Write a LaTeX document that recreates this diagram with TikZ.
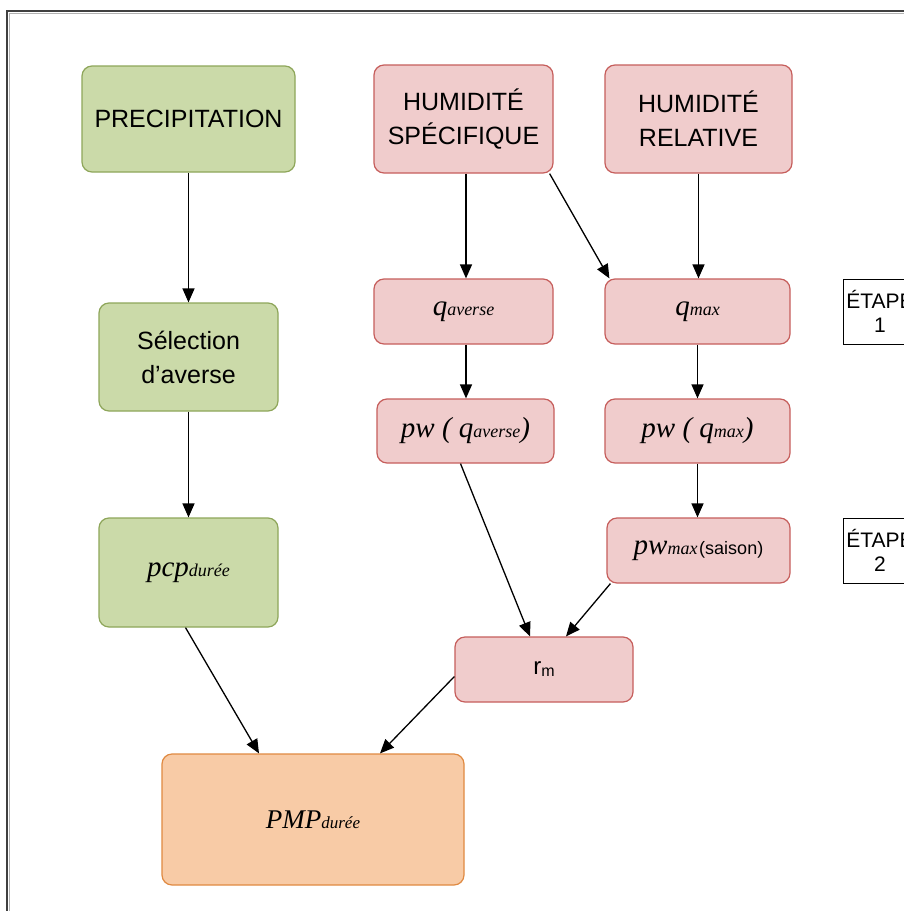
\documentclass[tikz,border=0pt]{standalone}
\usepackage{fontspec}
\setmainfont{Liberation Serif}
\setsansfont{Liberation Sans}
\usetikzlibrary{arrows.meta}
\definecolor{gfill}{HTML}{CBDAA9}
\definecolor{gdraw}{HTML}{8EA65A}
\definecolor{pfill}{HTML}{F0CCCC}
\definecolor{pdraw}{HTML}{C65E5C}
\definecolor{ofill}{HTML}{F8CBA6}
\definecolor{odraw}{HTML}{E08A42}
\newcommand\bigi[1]{{\fontsize{29}{30}\selectfont\itshape #1}}
\newcommand\subi[1]{{\fontsize{18}{20}\selectfont\itshape #1}}
\tikzset{
  boxbase/.style={rectangle, rounded corners=10pt, line width=1.2pt, align=center, inner sep=0pt},
  gbox/.style={boxbase, fill=gfill, draw=gdraw},
  pbox/.style={boxbase, fill=pfill, draw=pdraw},
  obox/.style={boxbase, fill=ofill, draw=odraw},
  bigsans/.style={font=\fontsize{25}{34}\selectfont\sffamily},
  etbox/.style={rectangle, draw=black, line width=0.8pt, fill=white, align=center,
    minimum width=70pt, minimum height=65pt, font=\fontsize{21}{24}\selectfont\sffamily},
  arr/.style={-{Triangle[length=14pt,width=12pt]}, line width=1.3pt, black},
}
\begin{document}
\begin{tikzpicture}[x=1pt,y=-1pt]
\useasboundingbox (0,0) rectangle (904,911);
\fill[white] (0,0) rectangle (904,911);
% frame
\draw[line width=2pt, black!75] (7,911) -- (7,11) -- (910,11);
\draw[line width=1.2pt, black!30] (9.5,911) -- (9.5,13.5) -- (910,13.5);

% nodes
\node[gbox, bigsans, minimum width=213pt, minimum height=106pt] (prec) at (188.5,119) {PRECIPITATION};
\node[pbox, bigsans, minimum width=179pt, minimum height=108pt] (hs) at (463.5,119) {HUMIDITÉ\\SPÉCIFIQUE};
\node[pbox, bigsans, minimum width=187pt, minimum height=108pt] (hr) at (698.5,119) {HUMIDITÉ\\RELATIVE};

\node[pbox, minimum width=179pt, minimum height=65pt] (qa) at (463.5,311.5) {\bigi{q}\subi{averse}};
\node[pbox, minimum width=185pt, minimum height=65pt] (qm) at (697.5,311.5) {\bigi{q}\subi{max}};

\node[pbox, minimum width=177pt, minimum height=64pt] (pwa) at (465.5,431) {\bigi{pw ( q}\subi{averse}\bigi{)}};
\node[pbox, minimum width=185pt, minimum height=64pt] (pwm) at (697.5,431) {\bigi{pw ( q}\subi{max}\bigi{)}};

\node[pbox, minimum width=183pt, minimum height=65pt] (pwx) at (698.5,550.5) {\bigi{pw}\subi{max}\,{\fontsize{18}{20}\selectfont\sffamily(saison)}};

\node[pbox, minimum width=178pt, minimum height=65pt] (rm) at (544,669.5) {{\fontsize{24}{26}\selectfont\sffamily r}\raisebox{-2pt}{\fontsize{16}{18}\selectfont\sffamily m}};

\node[gbox, bigsans, minimum width=179pt, minimum height=108pt] (sel) at (188.5,357) {Sélection\\d\char"27 averse};
\node[gbox, minimum width=179pt, minimum height=109pt] (pcp) at (188.5,572.5) {\bigi{pcp}\subi{durée}};

\node[obox, minimum width=302pt, minimum height=131pt] (pmp) at (313,819.5) {{\fontsize{27}{28}\selectfont\itshape PMP}{\fontsize{17}{19}\selectfont\itshape durée}};

\node[etbox] (e1) at (880,311.5) {ÉTAPE\\1};
\node[etbox] (e2) at (880,550.5) {ÉTAPE\\2};

% connectors
\draw[arr] (prec.south) -- (sel.north);
\draw[arr] (sel.south) -- (pcp.north);
\draw[arr] ([xshift=2.5pt]hs.south) -- ([xshift=2.5pt]qa.north);
\draw[arr] ([xshift=-4pt]hs.south east) -- ([xshift=5pt]qm.north west);
\draw[arr] (hr.south) -- ([xshift=1pt]qm.north);
\draw[arr] ([xshift=2.5pt]qa.south) -- ([xshift=0.5pt]pwa.north);
\draw[arr] (qm.south) -- (pwm.north);
\draw[arr] (pwm.south) -- ([xshift=-1pt]pwx.north);
\draw[arr] ([xshift=-5pt]pwa.south) -- ([xshift=-14pt]rm.north);
\draw[arr] ([xshift=4pt]pwx.south west) -- ([xshift=22pt]rm.north);
\draw[arr] ([xshift=-3pt]pcp.south) -- ([xshift=-54pt]pmp.north);
\draw[arr] ([yshift=-7pt]rm.west) -- ([xshift=67pt]pmp.north);
\end{tikzpicture}
\end{document}
